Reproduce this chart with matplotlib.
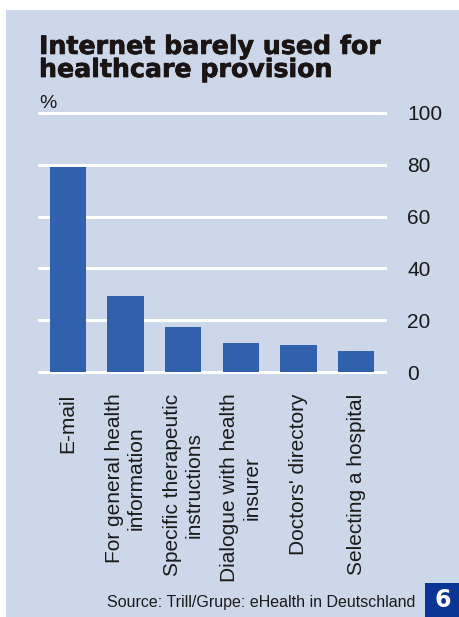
import matplotlib
matplotlib.use("Agg")
import matplotlib.pyplot as plt
import matplotlib.patheffects as pe
from matplotlib.patches import Rectangle

categories = ["E-mail", "For general health\ninformation", "Specific therapeutic\ninstructions",
              "Dialogue with health\ninsurer", "Doctors' directory", "Selecting a hospital"]
values = [79, 29.5, 17.3, 11.3, 10.5, 8.2]
yticks = [0, 20, 40, 60, 80, 100]

W, H = 460, 617
fig = plt.figure(figsize=(W / 100, H / 100), dpi=100)
fig.patch.set_facecolor("white")
bg = "#ccd7e9"
fig.patches.append(Rectangle((6 / W, 0), 1 - 6 / W, (H - 10) / H, transform=fig.transFigure,
                             facecolor=bg, edgecolor="none", zorder=-5))

ax = fig.add_axes([39 / W, 1 - 372 / H, (385 - 39) / W, (372 - 113) / H])
ax.set_zorder(2)
ax.set_facecolor("none")
for s in ax.spines.values():
    s.set_visible(False)

x = range(len(categories))
ax.bar(x, values, width=0.63, color="#3160ac", zorder=2)
ax.set_xlim(-0.5, 5.5)
ax.set_ylim(0, 100)
for t in yticks:
    ax.axhline(t, color="white", lw=2.2, zorder=1, clip_on=False)

ax.yaxis.tick_right()
ax.set_yticks(yticks)
ax.set_yticklabels([str(t) for t in yticks], fontsize=15, family="Liberation Sans", color="#1a1a1a")
ax.tick_params(axis="y", length=0, pad=16)
for lbl in ax.get_yticklabels():
    lbl.set_horizontalalignment("left")

ax.set_xticks(list(x))
ax.set_xticklabels(categories, rotation=90, fontsize=15, family="Liberation Sans",
                   color="#1a1a1a", va="top", ha="center", multialignment="center")
ax.tick_params(axis="x", length=0, pad=15.5)

fig.text(39 / W, 1 - 77 / H, "Internet barely used for\nhealthcare provision",
         fontsize=18.2, fontweight="heavy", family="DejaVu Sans", color="#1a1414",
         va="baseline", ha="left", linespacing=0.95,
         path_effects=[pe.withStroke(linewidth=0.5, foreground="#1a1414")])
fig.text(39 / W, 1 - 108 / H, "%", fontsize=14, family="Liberation Sans", color="#1a1a1a",
         va="baseline", ha="left")
fig.text(415 / W, 1 - 607 / H, "Source: Trill/Grupe: eHealth in Deutschland", fontsize=11.5,
         family="Liberation Sans", color="#1a1a1a", va="baseline", ha="right")

fig.patches.append(Rectangle((425 / W, 0), 35 / W, 34 / H, transform=fig.transFigure,
                             facecolor="#0b3592", edgecolor="none", zorder=1))
fig.text(442.5 / W, 17 / H, "6", fontsize=17, fontweight="bold", family="DejaVu Sans",
         color="white", va="center", ha="center")

fig.savefig("out.png", dpi=100)
